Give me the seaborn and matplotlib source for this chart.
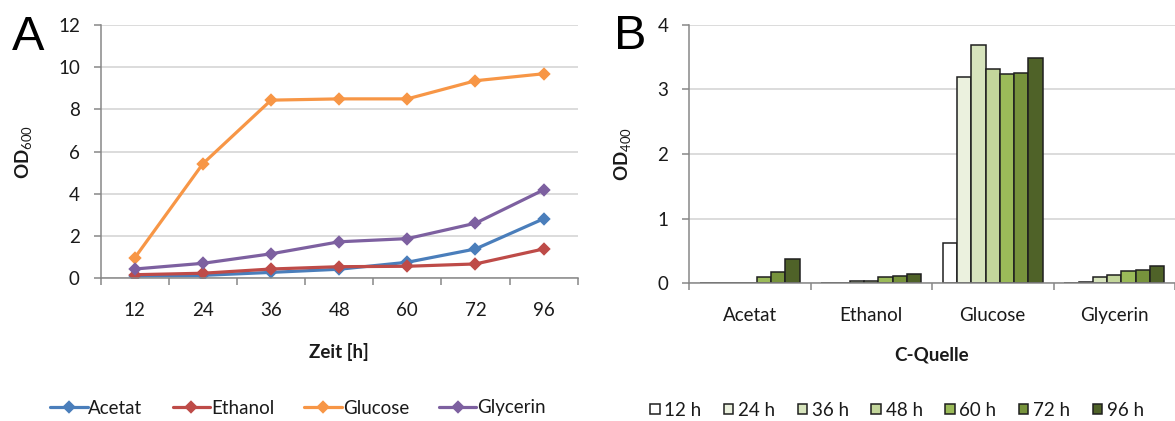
import numpy as np
import pandas as pd
import matplotlib
matplotlib.use("Agg")
import matplotlib.pyplot as plt
from matplotlib.ticker import FixedLocator, MultipleLocator
import seaborn as sns

# ---------------- data ----------------
times = ["12", "24", "36", "48", "60", "72", "96"]
sources = ["Acetat", "Ethanol", "Glucose", "Glycerin"]

od600_acetat = [0.11, 0.14, 0.28, 0.43, 0.76, 1.39, 2.82]
od600_ethanol = [0.17, 0.24, 0.44, 0.55, 0.57, 0.68, 1.39]
od600_glucose = [0.97, 5.43, 8.44, 8.50, 8.50, 9.36, 9.69]
od600_glycerin = [0.44, 0.71, 1.16, 1.73, 1.88, 2.61, 4.19]

bar_times = ["12 h", "24 h", "36 h", "48 h", "60 h", "72 h", "96 h"]
od400_acetat = [0.0, 0.0, 0.0, 0.01, 0.09, 0.17, 0.37]
od400_ethanol = [0.0, 0.0, 0.04, 0.04, 0.09, 0.11, 0.15]
od400_glucose = [0.62, 3.19, 3.68, 3.31, 3.23, 3.25, 3.48]
od400_glycerin = [0.0, 0.02, 0.09, 0.13, 0.19, 0.21, 0.26]

line_colors = ["#4A7EBB", "#BE4B48", "#F79646", "#7D60A0"]
bar_colors = ["#FFFFFF", "#EBF1DE", "#D7E4BD", "#C3D69B", "#9BBB59", "#77933C", "#4F6228"]

# ---------------- style ----------------
sns.set_theme(style="white")
FONT = "Lato"
plt.rcParams["font.family"] = [FONT, "DejaVu Sans"]
plt.rcParams["mathtext.fontset"] = "custom"
plt.rcParams["mathtext.rm"] = FONT
plt.rcParams["mathtext.it"] = FONT
plt.rcParams["mathtext.bf"] = FONT + ":bold"
TXT = "#1a1a1a"
GRID = "#D9D9D9"
SPINE = "#878787"
FS = 13.5

W, H = 1175, 421
fig = plt.figure(figsize=(W / 100, H / 100), dpi=100)

def ax_rect(l, r, t, b):
    return [l / W, 1 - b / H, (r - l) / W, (b - t) / H]

axA = fig.add_axes(ax_rect(100.7, 577.7, 25, 278.3))
axB = fig.add_axes(ax_rect(689, 1175, 24.7, 283.3))

# ---------------- panel A ----------------
dfA = pd.DataFrame({
    "Zeit": times * 4,
    "Quelle": sum([[s] * len(times) for s in sources], []),
    "OD": od600_acetat + od600_ethanol + od600_glucose + od600_glycerin,
})
sns.pointplot(data=dfA, x="Zeit", y="OD", hue="Quelle", order=times,
              hue_order=sources, palette=line_colors, markers="D",
              linestyles="-", errorbar=None, dodge=False, ax=axA,
              markersize=5, linewidth=2.3)

# ---------------- panel B ----------------
dfB = pd.DataFrame({
    "Quelle": sum([[s] * len(bar_times) for s in sources], []),
    "Zeit": bar_times * 4,
    "OD": od400_acetat + od400_ethanol + od400_glucose + od400_glycerin,
})
sns.barplot(data=dfB, x="Quelle", y="OD", hue="Zeit", order=sources,
            hue_order=bar_times, palette=bar_colors, edgecolor="#1f1f1f",
            linewidth=1.1, width=0.82, gap=0, errorbar=None, ax=axB,
            saturation=1)

# ---------------- axes styling ----------------
for ax, ymax, step, ncat in [(axA, 12, 2, len(times)), (axB, 4, 1, len(sources))]:
    ax.set_ylim(0, ymax)
    ax.set_xlim(-0.5, ncat - 0.5)
    ax.yaxis.set_major_locator(MultipleLocator(step))
    ax.set_axisbelow(True)
    ax.yaxis.grid(True, color=GRID, linewidth=1.3)
    ax.xaxis.grid(False)
    for s in ["top", "right"]:
        ax.spines[s].set_visible(False)
    for s in ["left", "bottom"]:
        ax.spines[s].set_color(SPINE)
        ax.spines[s].set_linewidth(1.1)
        ax.spines[s].set_zorder(3)
    ax.xaxis.set_minor_locator(FixedLocator(np.arange(-0.5, ncat, 1.0)))
    ax.tick_params(axis="x", which="major", length=0, pad=17, labelsize=FS, colors=TXT)
    ax.tick_params(axis="x", which="minor", length=5, width=1.1, color=SPINE, direction="out")
    ax.tick_params(axis="y", which="major", length=5, width=1.1, color=SPINE,
                   direction="out", pad=10, labelsize=FS, labelcolor=TXT)
    ax.tick_params(left=True, bottom=True)
    ax.tick_params(axis="x", which="minor", bottom=True)

axA.set_xlabel("Zeit [h]", fontsize=FS, fontweight="bold", color=TXT)
axA.xaxis.set_label_coords(0.5, -0.255)
axA.set_ylabel(r"OD$_{600}$", fontsize=FS, fontweight="bold", color=TXT)
axA.yaxis.set_label_coords(-0.14, 0.5)

axB.set_xlabel("C-Quelle", fontsize=FS, fontweight="bold", color=TXT)
axB.xaxis.set_label_coords(0.5, -0.245)
axB.set_ylabel(r"OD$_{400}$", fontsize=FS, fontweight="bold", color=TXT)
axB.yaxis.set_label_coords(-0.115, 0.5)

# ---------------- legends ----------------
hA, lA = axA.get_legend_handles_labels()
axA.get_legend().remove()
fig.legend(hA, lA, loc="center", bbox_to_anchor=(298 / W, 1 - 408 / H),
           ncol=4, frameon=False, fontsize=FS, handlelength=2.0,
           handletextpad=0.05, columnspacing=1.6, labelcolor=TXT)

hB, lB = axB.get_legend_handles_labels()
axB.get_legend().remove()
fig.legend(hB, lB, loc="center", bbox_to_anchor=(897 / W, 1 - 410 / H),
           ncol=7, frameon=False, fontsize=FS, handlelength=0.5,
           handleheight=0.5, handletextpad=0.25, columnspacing=1.2,
           labelcolor=TXT)

# ---------------- panel letters ----------------
fig.text(12 / W, 1 - 50 / H, "A", fontsize=35, family="Liberation Sans",
         color="black", va="baseline", ha="left")
fig.text(614 / W, 1 - 49 / H, "B", fontsize=35, family="Liberation Sans",
         color="black", va="baseline", ha="left")

fig.savefig("out.png", dpi=100)
